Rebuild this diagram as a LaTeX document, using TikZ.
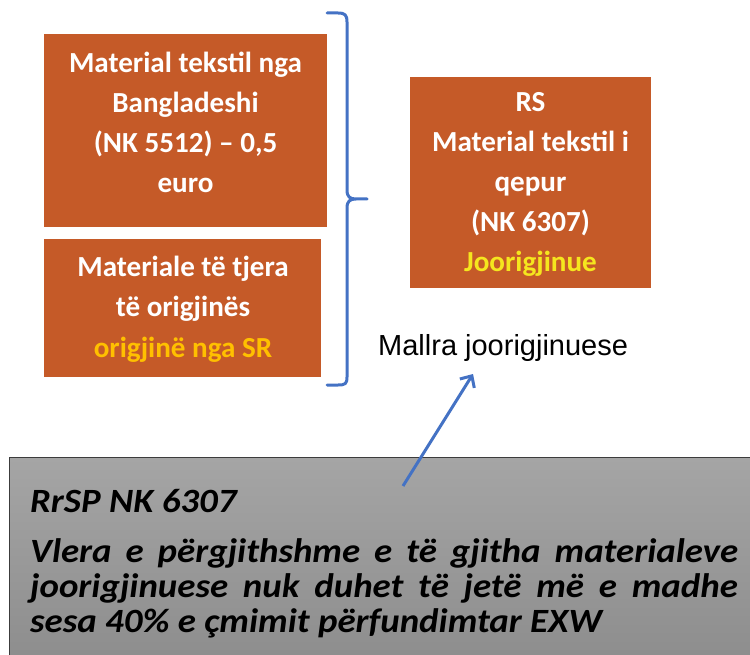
\documentclass[tikz,border=0pt]{standalone}
\usepackage{fontspec}
\setmainfont{Carlito}
\newfontfamily\arialfont{Liberation Sans}
\usetikzlibrary{arrows.meta}

\definecolor{boxorange}{HTML}{C55A28}
\definecolor{bracecol}{HTML}{4472C4}
\definecolor{goldtxt}{HTML}{FFC000}
\definecolor{yeltxt}{HTML}{F5E61E}
\definecolor{grayA}{HTML}{A5A5A5}
\definecolor{grayB}{HTML}{8B8B8B}
\definecolor{grayedge}{HTML}{3C3C3C}

% wide italic lines of the rule box
\newcommand{\wideline}[1]{\scalebox{1.085}[1]{#1}}
\newcommand{\justline}[1]{\scalebox{1.085}[1]{\makebox[652.5pt][s]{#1}}}

\tikzset{
  orangebox/.style={fill=boxorange, draw=none, anchor=north west, inner sep=0pt},
  boxtext/.style={text=white, font=\fontsize{29.1}{40.2}\selectfont\bfseries,
                  align=center, anchor=base, inner sep=0pt},
  bluepen/.style={draw=bracecol, line width=3pt},
  graytext/.style={font=\fontsize{34}{35}\selectfont\bfseries\itshape,
                   anchor=base west, inner sep=0pt}
}

\begin{document}
\begin{tikzpicture}[x=1pt, y=-1pt]
\useasboundingbox (0,0) rectangle (750,655);

% left column: two source materials (text anchored at its last baseline)
\node[orangebox, minimum width=283pt, minimum height=193pt] (bd) at (44,34) {};
\node[boxtext] (bdtxt) at (185.5,193)
  {Material tekstil nga\\Bangladeshi\\(NK 5512) -- 0,5\\euro};

\node[orangebox, minimum width=277pt, minimum height=138pt] (oth) at (44,239) {};
\node[boxtext] (othtxt) at (183,357)
  {Materiale të tjera\\të origjinës\\\textcolor{goldtxt}{origjinë nga SR}};

% brace grouping the materials
\draw[bluepen, line cap=round, line join=round]
  (327,13) -- (338,13) .. controls (345,13) and (347,15) .. (347,22)
  -- (347,190) .. controls (347,197) and (350,199) .. (356,199) -- (367,199)
  (356,199) .. controls (350,199) and (347,201) .. (347,208)
  -- (347,377) .. controls (347,384) and (345,385) .. (338,385) -- (327,385);

% resulting product
\node[orangebox, minimum width=241pt, minimum height=211pt] (rs) at (410,77) {};
\node[boxtext] (rstxt) at (530.5,272)
  {RS\\Material tekstil i\\qepur\\(NK 6307)\\\textcolor{yeltxt}{Joorigjinue}};

\node[anchor=base west, inner sep=0pt, font=\arialfont\fontsize{29}{34}\selectfont]
  (mallra) at (378,355) {Mallra joorigjinuese};

% rule box at the bottom
\begin{scope}
  \clip (0,0) rectangle (750,655);
  \shade[top color=grayA, bottom color=grayB, draw=grayedge, line width=1pt]
    (9,457) rectangle (770,680);
\end{scope}

\node[graytext] (rule) at (30,512) {\wideline{RrSP NK 6307}};
\node[graytext] (ln1) at (30,562)
  {\justline{Vlera e përgjithshme e të gjitha materialeve}};
\node[graytext] (ln2) at (30,597)
  {\justline{joorigjinuese nuk duhet të jetë më e madhe}};
\node[graytext] (ln3) at (30,632) {\wideline{sesa 40\% e çmimit përfundimtar EXW}};

\coordinate (atail) at (403,486);
\coordinate (ahead) at (473,374);
\draw[bluepen, -{Straight Barb[length=9pt, width=17pt]}] (atail) -- (ahead);
\end{tikzpicture}
\end{document}
